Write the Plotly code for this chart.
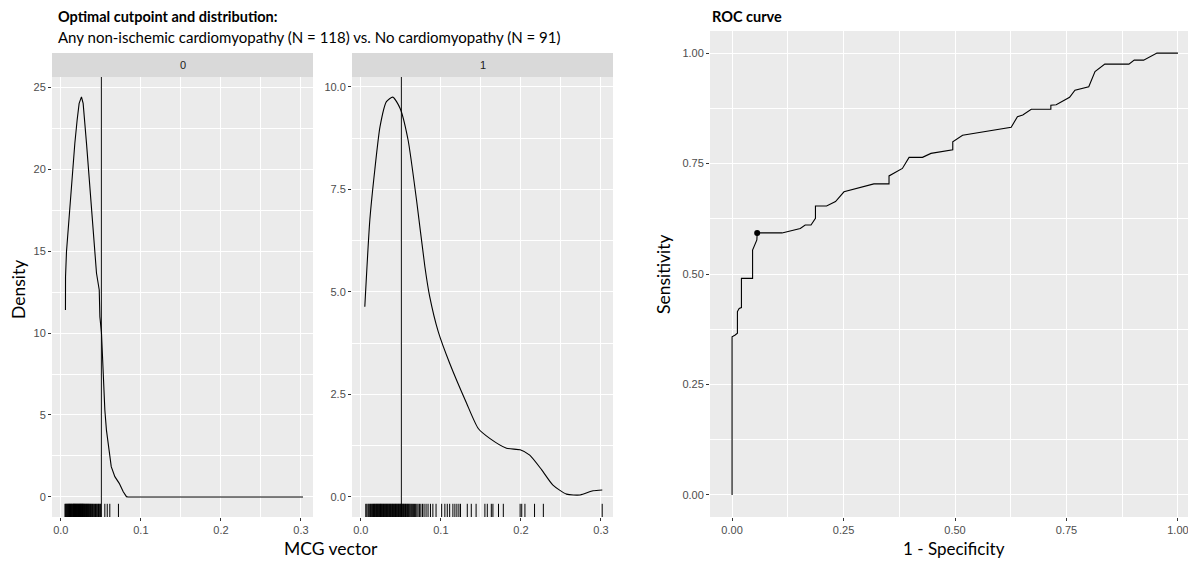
import plotly.graph_objects as go

W, H = 1196, 572
PAGE_OFFSET = 8  # default page margin in front of the figure

# ---------------- data ----------------
CUTPOINT = 0.0506

dens0_x = [0.0058, 0.0059, 0.0071, 0.0092, 0.0113, 0.0142, 0.0175, 0.0204, 0.0229, 0.0258,
           0.0279, 0.0321, 0.0363, 0.0404, 0.0446, 0.0480, 0.0488, 0.0508, 0.0520, 0.0523,
           0.0530, 0.0550, 0.0570, 0.0600, 0.0630, 0.0675, 0.0730, 0.0780, 0.0820, 0.0840, 0.3025]
dens0_y = [11.40, 13.43, 14.96, 16.28, 18.10, 19.94, 21.56, 22.99, 24.00, 24.40,
           24.00, 21.56, 18.92, 16.08, 13.64, 12.62, 11.00, 10.00, 8.66, 7.74,
           6.90, 5.30, 4.08, 2.87, 1.85, 1.24, 0.83, 0.32, 0.02, 0.0, 0.0]

dens1_x = [0.0050, 0.0113, 0.0175, 0.0240, 0.0320, 0.0400, 0.0490, 0.0590, 0.0696, 0.0800,
           0.0860, 0.0967, 0.1110, 0.1320, 0.1467, 0.1610, 0.1820, 0.1990, 0.2110, 0.2260,
           0.2400, 0.2570, 0.2740, 0.2900, 0.3016]
dens1_y = [4.64, 6.76, 7.98, 9.03, 9.64, 9.75, 9.48, 8.71, 7.24, 5.62,
           4.89, 4.03, 3.26, 2.29, 1.67, 1.43, 1.19, 1.15, 1.02, 0.66,
           0.29, 0.07, 0.05, 0.15, 0.17]

rug0 = [0.0052, 0.0060, 0.0068, 0.0075, 0.0081, 0.0088, 0.0093, 0.0099, 0.0105, 0.0110,
        0.0114, 0.0121, 0.0127, 0.0132, 0.0138, 0.0142, 0.0149, 0.0155, 0.0160, 0.0163,
        0.0168, 0.0172, 0.0178, 0.0183, 0.0188, 0.0192, 0.0197, 0.0203, 0.0207, 0.0212,
        0.0218, 0.0222, 0.0228, 0.0233, 0.0238, 0.0242, 0.0247, 0.0252, 0.0256, 0.0261,
        0.0266, 0.0271, 0.0276, 0.0280, 0.0286, 0.0291, 0.0297, 0.0303, 0.0310, 0.0316,
        0.0322, 0.0329, 0.0335, 0.0342, 0.0348, 0.0355, 0.0362, 0.0370, 0.0378, 0.0386,
        0.0395, 0.0404, 0.0413, 0.0423, 0.0433, 0.0443, 0.0452, 0.0462, 0.0471, 0.0480,
        0.0490, 0.0498, 0.0550, 0.0580, 0.0612, 0.0720]

rug1 = [0.0062, 0.0075, 0.0090, 0.0100, 0.0112, 0.0120, 0.0131, 0.0140, 0.0148, 0.0158,
        0.0165, 0.0172, 0.0180, 0.0188, 0.0195, 0.0203, 0.0210, 0.0218, 0.0225, 0.0232,
        0.0240, 0.0246, 0.0253, 0.0260, 0.0268, 0.0275, 0.0283, 0.0290, 0.0298, 0.0305,
        0.0312, 0.0320, 0.0327, 0.0335, 0.0342, 0.0350, 0.0357, 0.0365, 0.0372, 0.0380,
        0.0388, 0.0395, 0.0402, 0.0410, 0.0418, 0.0425, 0.0433, 0.0440, 0.0448, 0.0455,
        0.0463, 0.0470, 0.0478, 0.0486, 0.0493, 0.0500, 0.0508, 0.0516, 0.0524, 0.0532,
        0.0540, 0.0549, 0.0558, 0.0567, 0.0576, 0.0585, 0.0594, 0.0604, 0.0614, 0.0625,
        0.0636, 0.0648, 0.0660, 0.0672, 0.0685, 0.0700, 0.0715, 0.0732, 0.0750, 0.0770,
        0.0790, 0.0815, 0.0840, 0.0870, 0.0900, 0.0940, 0.1010, 0.1050, 0.1080, 0.1110,
        0.1150, 0.1175, 0.1200, 0.1225, 0.1245, 0.1330, 0.1380, 0.1440, 0.1550, 0.1580,
        0.1630, 0.1650, 0.1720, 0.1780, 0.1990, 0.2010, 0.2050, 0.2170, 0.2280, 0.3015]

roc_fpr = [0.000, 0.000, 0.007, 0.012, 0.012, 0.016, 0.021, 0.021, 0.046, 0.046,
           0.0556, 0.0563, 0.112, 0.153, 0.164, 0.177, 0.187, 0.187, 0.212, 0.232,
           0.251, 0.318, 0.352, 0.352, 0.382, 0.397, 0.427, 0.446, 0.495, 0.495,
           0.517, 0.626, 0.640, 0.652, 0.671, 0.715, 0.715, 0.727, 0.757, 0.769,
           0.800, 0.814, 0.836, 0.890, 0.902, 0.923, 0.953, 1.000]
roc_tpr = [0.000, 0.358, 0.362, 0.366, 0.415, 0.422, 0.424, 0.490, 0.490, 0.554,
           0.577, 0.593, 0.593, 0.603, 0.611, 0.611, 0.626, 0.654, 0.654, 0.664,
           0.686, 0.704, 0.704, 0.722, 0.739, 0.764, 0.764, 0.773, 0.781, 0.799,
           0.814, 0.832, 0.856, 0.860, 0.873, 0.873, 0.882, 0.883, 0.900, 0.916,
           0.924, 0.958, 0.975, 0.975, 0.984, 0.984, 1.000, 1.000]
opt_fpr = [0.0563]
opt_tpr = [0.593]

# ---------------- layout constants ----------------
def fx(px):
    return (px - PAGE_OFFSET) / W

def fy(py):
    return 1 - (py - PAGE_OFFSET) / H

XR = [-0.011, 0.315]
Y0R = [-1.22, 25.61]
Y1R = [-0.488, 10.24]
ROCR = [-0.05, 1.05]
ROCX = [-0.0495, 1.045]

TICKFONT = dict(family="Liberation Sans, Arial, sans-serif", size=11, color="#4D4D4D")
TITLEFONT = "Lato, Noto Sans, sans-serif"


def rug_xy(vals, yr):
    xs, ys = [], []
    top = yr[0] + 0.03 * (yr[1] - yr[0])
    for v in vals:
        xs += [v, v, None]
        ys += [yr[0], top, None]
    return xs, ys


fig = go.Figure()

# densities
fig.add_trace(go.Scatter(x=dens0_x, y=dens0_y, mode="lines", xaxis="x", yaxis="y",
                         line=dict(color="black", width=1.1), showlegend=False))
fig.add_trace(go.Scatter(x=dens1_x, y=dens1_y, mode="lines", xaxis="x2", yaxis="y2",
                         line=dict(color="black", width=1.1, shape="spline", smoothing=0.6),
                         showlegend=False))
# rugs
rx, ry = rug_xy(rug0, Y0R)
fig.add_trace(go.Scatter(x=rx, y=ry, mode="lines", xaxis="x", yaxis="y",
                         line=dict(color="black", width=1), showlegend=False))
rx, ry = rug_xy(rug1, Y1R)
fig.add_trace(go.Scatter(x=rx, y=ry, mode="lines", xaxis="x2", yaxis="y2",
                         line=dict(color="black", width=1), showlegend=False))
# ROC
fig.add_trace(go.Scatter(x=roc_fpr, y=roc_tpr, mode="lines", xaxis="x3", yaxis="y3",
                         line=dict(color="black", width=1.1), showlegend=False))
fig.add_trace(go.Scatter(x=opt_fpr, y=opt_tpr, mode="markers", xaxis="x3", yaxis="y3",
                         marker=dict(color="black", size=6), showlegend=False))

# cutpoint lines
for xr in ["x", "x2"]:
    yref = "y domain" if xr == "x" else "y2 domain"
    fig.add_shape(type="line", xref=xr, yref=yref, x0=CUTPOINT, x1=CUTPOINT, y0=0, y1=1,
                  line=dict(color="black", width=1))

# strips
for (a, b, lab) in [(52, 313, "0"), (352, 613, "1")]:
    fig.add_shape(type="rect", xref="paper", yref="paper", x0=fx(a), x1=fx(b),
                  y0=fy(77), y1=fy(53), fillcolor="#D9D9D9", line=dict(width=0), layer="below")
    fig.add_annotation(x=fx((a + b) / 2), y=fy(65), xref="paper", yref="paper", text=lab,
                       showarrow=False, xanchor="center", yanchor="middle",
                       font=dict(family="Liberation Sans, Arial, sans-serif", size=11, color="#1A1A1A"))

common = dict(showline=False, zeroline=False, ticks="outside", ticklen=3, tickwidth=1,
              tickcolor="#333333", tickfont=TICKFONT, showgrid=True, gridcolor="white",
              gridwidth=1.1, automargin=False)

def minor(d):
    return dict(dtick=d, tick0=0, showgrid=True, gridcolor="white", gridwidth=0.5, ticks="")

fig.update_layout(
    width=W, height=H,
    margin=dict(l=0, r=0, t=0, b=0, autoexpand=False),
    paper_bgcolor="white", plot_bgcolor="#EBEBEB",
    showlegend=False,
    xaxis=dict(domain=[fx(52), fx(313)], range=XR, anchor="y", tickvals=[0, 0.1, 0.2, 0.3],
               ticktext=["0.0", "0.1", "0.2", "0.3"], minor=minor(0.05), **common),
    yaxis=dict(domain=[fy(517), fy(77)], range=Y0R, anchor="x", dtick=5, tick0=0,
               minor=minor(2.5), **common),
    xaxis2=dict(domain=[fx(352), fx(613)], range=XR, anchor="y2", tickvals=[0, 0.1, 0.2, 0.3],
                ticktext=["0.0", "0.1", "0.2", "0.3"], minor=minor(0.05), **common),
    yaxis2=dict(domain=[fy(517), fy(77)], range=Y1R, anchor="x2", dtick=2.5, tick0=0,
                tickformat=".1f", minor=minor(1.25), **common),
    xaxis3=dict(domain=[fx(710), fx(1198)], range=ROCX, anchor="y3", dtick=0.25, tick0=0,
                tickformat=".2f", minor=minor(0.125), **common),
    yaxis3=dict(domain=[fy(517), fy(31)], range=ROCR, anchor="x3", dtick=0.25, tick0=0,
                tickformat=".2f", minor=minor(0.125), **common),
)

def ann(text, x, y, size, xanchor="center", angle=0, bold=False, color="black"):
    t = f"<b>{text}</b>" if bold else text
    fig.add_annotation(x=fx(x), y=fy(y), xref="paper", yref="paper", text=t, showarrow=False,
                       xanchor=xanchor, yanchor="middle", textangle=angle,
                       font=dict(family=TITLEFONT, size=size, color=color))

ann("Optimal cutpoint and distribution:", 56, 17, 14.5, xanchor="left", bold=True)
ann("Any non-ischemic cardiomyopathy (N = 118) vs. No cardiomyopathy (N = 91)", 56, 37, 15,
    xanchor="left")
ann("ROC curve", 710, 17, 14.5, xanchor="left", bold=True)
ann("Density", 18, 290, 17.5, angle=-90)
ann("MCG vector", 331, 548, 17.5)
ann("Sensitivity", 663, 274, 17.5, angle=-90)
ann("1 - Specificity", 954, 548, 17)

fig.write_html("out.html")
